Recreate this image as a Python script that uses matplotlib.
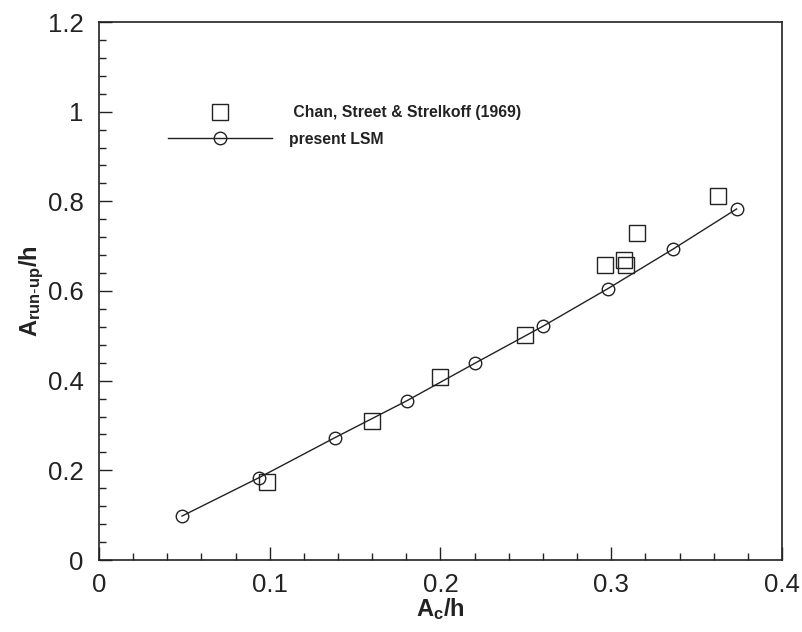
import matplotlib
matplotlib.use('Agg')
import matplotlib.pyplot as plt
from matplotlib.ticker import MultipleLocator

plt.rcParams['font.family'] = ['Liberation Sans', 'DejaVu Sans']
plt.rcParams['mathtext.fontset'] = 'custom'
plt.rcParams['mathtext.rm'] = 'Liberation Sans'
plt.rcParams['mathtext.bf'] = 'Liberation Sans:bold'
plt.rcParams['mathtext.default'] = 'bf'

# experiment (squares)
exp_x = [0.0982, 0.160, 0.200, 0.2497, 0.2965, 0.3072, 0.3084, 0.3148, 0.3627]
exp_y = [0.173, 0.311, 0.408, 0.501, 0.658, 0.670, 0.658, 0.730, 0.811]

# present LSM (circles + line)
lsm_x = [0.0486, 0.0939, 0.1382, 0.1802, 0.2202, 0.2598, 0.2979, 0.336, 0.3734]
lsm_y = [0.098, 0.184, 0.273, 0.355, 0.439, 0.521, 0.605, 0.693, 0.783]

xticks = [0, 0.1, 0.2, 0.3, 0.4]
xtick_labels = ['0', '0.1', '0.2', '0.3', '0.4']
yticks = [0, 0.2, 0.4, 0.6, 0.8, 1.0, 1.2]
ytick_labels = ['0', '0.2', '0.4', '0.6', '0.8', '1', '1.2']

INK = '#222222'

fig = plt.figure(figsize=(8.03, 6.32), dpi=100)
ax = fig.add_axes([99/803, 72/632, 683/803, 538/632])

ax.plot(exp_x, exp_y, ls='none', marker='s', ms=11, mfc='none', mec=INK, mew=1.0,
        label=' Chan, Street & Strelkoff (1969)')
ax.plot(lsm_x, lsm_y, color=INK, lw=1.0, marker='o', ms=9, mfc='none', mec=INK, mew=1.0,
        label='present LSM')

ax.set_xlim(0, 0.4)
ax.set_ylim(0, 1.2)
ax.set_xticks(xticks)
ax.set_xticklabels(xtick_labels)
ax.set_yticks(yticks)
ax.set_yticklabels(ytick_labels)
ax.xaxis.set_minor_locator(MultipleLocator(0.02))
ax.yaxis.set_minor_locator(MultipleLocator(0.04))

ax.tick_params(which='both', direction='in', top=False, right=False, colors=INK, labelsize=18.5)
ax.tick_params(which='major', length=9.5, width=1.0, pad=9)
ax.tick_params(axis='y', which='major', pad=11)
ax.tick_params(which='minor', length=5, width=1.0)
for s in ax.spines.values():
    s.set_linewidth(1.2)
    s.set_color(INK)

ax.set_xlabel(r'$A_{c}/h$', fontsize=17, color=INK, labelpad=0)
ax.set_ylabel(r'$A_{run\text{-}up}/h$', fontsize=17, color=INK, labelpad=1)

leg = ax.legend(loc='upper left', bbox_to_anchor=(0.09, 0.86), frameon=False,
                prop={'weight': 'bold', 'size': 11.3}, handlelength=6.6,
                handletextpad=1.1, labelspacing=0.75, borderpad=0)
for t in leg.get_texts():
    t.set_color(INK)

fig.savefig('out.png', dpi=100)
